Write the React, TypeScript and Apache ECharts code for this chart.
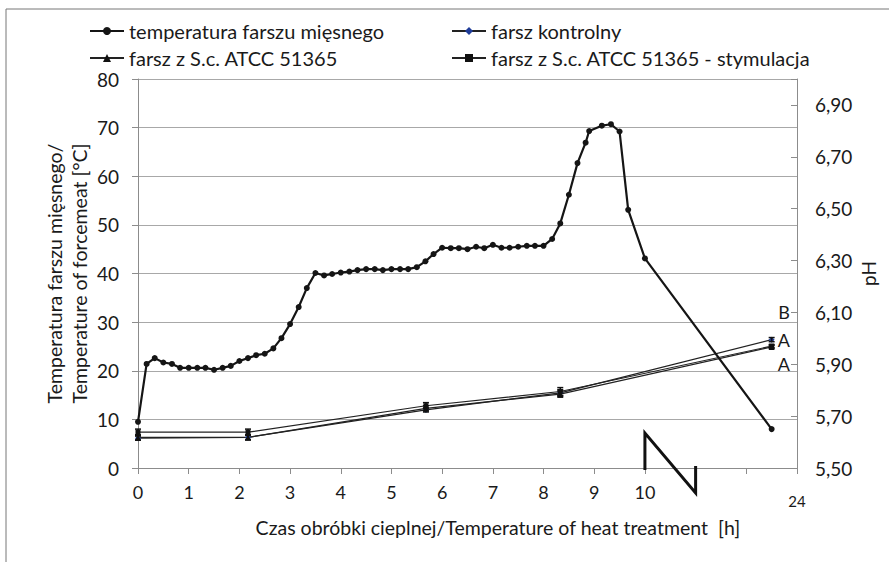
import React, { useEffect, useRef } from 'react';
import * as echarts from 'echarts';

// Temperature of forcemeat (left axis, °C); x = position on broken time axis (h, last point = 24 h)
const tempX = [0, 0.17, 0.33, 0.5, 0.67, 0.83, 1.0, 1.17, 1.33, 1.5, 1.67, 1.83, 2.0, 2.17, 2.33, 2.5, 2.67, 2.83, 3.0, 3.17, 3.33, 3.5, 3.67, 3.83, 4.0, 4.17, 4.33, 4.5, 4.67, 4.83, 5.0, 5.17, 5.33, 5.5, 5.67, 5.83, 6.0, 6.17, 6.33, 6.5, 6.67, 6.83, 7.0, 7.17, 7.33, 7.5, 7.67, 7.83, 8.0, 8.17, 8.33, 8.5, 8.67, 8.83, 8.9, 9.15, 9.33, 9.5, 9.67, 10.0, 12.5];
const tempY = [9.5, 21.4, 22.6, 21.7, 21.4, 20.6, 20.6, 20.6, 20.6, 20.2, 20.6, 21.0, 22.0, 22.6, 23.2, 23.5, 24.6, 26.7, 29.6, 33.1, 37.0, 40.1, 39.6, 39.9, 40.2, 40.4, 40.7, 40.9, 40.9, 40.7, 40.9, 40.9, 40.9, 41.3, 42.5, 44.0, 45.3, 45.2, 45.2, 45.0, 45.5, 45.2, 45.9, 45.3, 45.3, 45.5, 45.7, 45.7, 45.7, 47.1, 50.3, 56.2, 62.7, 66.9, 69.3, 70.4, 70.7, 69.2, 53.1, 43.1, 8.0];

// pH (right axis)
const phX = [0, 2.17, 5.68, 8.33, 12.5];
const phKontrolny = [5.615, 5.618, 5.724, 5.79, 5.995];
const phSc = [5.618, 5.618, 5.73, 5.785, 5.967];
const phStym = [5.638, 5.638, 5.74, 5.795, 5.97];
const errKontrolny = [0.008, 0.008, 0.008, 0.012, 0.008];
const errSc = [0.01, 0.01, 0.01, 0.012, 0.006];
const errStym = [0.012, 0.012, 0.012, 0.015, 0.006];

const xTickLabels = ['0', '1', '2', '3', '4', '5', '6', '7', '8', '9', '10', '', '', '24'];
const groupLabels = [
  { y: 6.1, t: 'B' },
  { y: 5.995, t: 'A' },
  { y: 5.9, t: 'A' },
];

const NAMES = [
  'temperatura farszu mięsnego',
  'farsz kontrolny',
  'farsz z S.c. ATCC 51365',
  'farsz z S.c. ATCC 51365 - stymulacja',
];

const FONT = 'Lato';
const TXT = '#1a1a1a';

const errRender = (params: any, api: any) => {
  const x = api.value(0);
  const lo = api.value(1);
  const hi = api.value(2);
  const p1 = api.coord([x, hi]);
  const p2 = api.coord([x, lo]);
  const w = 3;
  const style = { stroke: '#111', lineWidth: 1.5 };
  return {
    type: 'group',
    children: [
      { type: 'line', shape: { x1: p1[0], y1: p1[1], x2: p2[0], y2: p2[1] }, style },
      { type: 'line', shape: { x1: p1[0] - w, y1: p1[1], x2: p1[0] + w, y2: p1[1] }, style },
      { type: 'line', shape: { x1: p2[0] - w, y1: p2[1], x2: p2[0] + w, y2: p2[1] }, style },
    ],
  };
};

const errData = (vals: number[], errs: number[]) => phX.map((x, i) => [x, vals[i] - errs[i], vals[i] + errs[i]]);

export default function App() {
  const ref = useRef<HTMLDivElement>(null);
  useEffect(() => {
    if (!ref.current) return;
    const chart = echarts.init(ref.current, null, { renderer: 'svg' });
    const legendBase = {
      itemWidth: 34,
      itemHeight: 10,
      itemGap: 5,
      textStyle: { fontFamily: FONT, fontSize: 20, color: TXT },
    };
    const option: any = {
      animation: false,
      backgroundColor: '#fff',
      textStyle: { fontFamily: FONT },
      legend: [
        { ...legendBase, data: [NAMES[0]], left: 84, top: 16 },
        { ...legendBase, data: [NAMES[1]], left: 446, top: 16 },
        { ...legendBase, data: [NAMES[2]], left: 84, top: 43 },
        { ...legendBase, data: [NAMES[3]], left: 446, top: 43 },
      ],
      grid: { left: 138, right: 92, top: 79, bottom: 94, containLabel: false },
      xAxis: {
        type: 'value',
        min: 0,
        max: 13,
        interval: 1,
        axisLine: { lineStyle: { color: '#8c8c8c', width: 1 } },
        axisTick: { show: true, length: 6, lineStyle: { color: '#8c8c8c' } },
        splitLine: { show: false },
        axisLabel: {
          margin: 15,
          fontFamily: FONT,
          fontSize: 18,
          color: TXT,
          formatter: (v: number) => {
            const s = xTickLabels[Math.round(v)] ?? '';
            return v === 13 ? '{b|' + s + '}' : s;
          },
          rich: { b: { fontFamily: FONT, fontSize: 15, color: TXT, padding: [10, 0, 0, 0] } },
        },
      },
      yAxis: [
        {
          type: 'value',
          min: 0,
          max: 80,
          interval: 10,
          name: 'Temperatura farszu mięsnego/\nTemperature of forcemeat [°C]',
          nameLocation: 'middle',
          nameGap: 46,
          nameRotate: 90,
          nameMoveOverlap: false,
          nameTextStyle: { fontFamily: FONT, fontSize: 19.5, color: TXT, lineHeight: 25 },
          axisLine: { show: true, lineStyle: { color: '#8c8c8c' } },
          axisTick: { show: true, length: 6, lineStyle: { color: '#8c8c8c' } },
          splitLine: { show: true, lineStyle: { color: '#a8a8a8', width: 1.2 } },
          axisLabel: { margin: 19, fontFamily: FONT, fontSize: 19, color: TXT },
        },
        {
          type: 'value',
          min: 5.5,
          max: 7.0,
          interval: 0.2,
          position: 'right',
          name: 'pH',
          nameLocation: 'middle',
          nameGap: 62,
          nameRotate: 90,
          nameMoveOverlap: false,
          nameTextStyle: { fontFamily: FONT, fontSize: 19, color: TXT },
          axisLine: { show: true, lineStyle: { color: '#8c8c8c' } },
          axisTick: { show: true, inside: true, length: 6, lineStyle: { color: '#8c8c8c' } },
          splitLine: { show: false },
          axisLabel: {
            margin: 18,
            fontFamily: FONT,
            fontSize: 19,
            color: TXT,
            formatter: (v: number) => (Math.abs(v - 7.0) < 1e-6 ? '' : v.toFixed(2).replace('.', ',')),
          },
        },
      ],
      series: [
        {
          name: NAMES[0],
          type: 'line',
          yAxisIndex: 0,
          data: tempX.map((x, i) => [x, tempY[i]]),
          symbol: 'circle',
          symbolSize: 6,
          lineStyle: { color: '#151515', width: 2.2 },
          itemStyle: { color: '#151515' },
          z: 5,
        },
        {
          name: NAMES[1],
          type: 'line',
          yAxisIndex: 1,
          data: phX.map((x, i) => [x, phKontrolny[i]]),
          symbol: 'diamond',
          symbolSize: 6,
          lineStyle: { color: '#222', width: 1.2 },
          itemStyle: { color: '#1f3c99' },
          z: 4,
        },
        {
          name: NAMES[2],
          type: 'line',
          yAxisIndex: 1,
          data: phX.map((x, i) => [x, phSc[i]]),
          symbol: 'triangle',
          symbolSize: 6,
          lineStyle: { color: '#222', width: 1.2 },
          itemStyle: { color: '#111' },
          z: 4,
        },
        {
          name: NAMES[3],
          type: 'line',
          yAxisIndex: 1,
          data: phX.map((x, i) => [x, phStym[i]]),
          symbol: 'rect',
          symbolSize: 5,
          lineStyle: { color: '#222', width: 1.2 },
          itemStyle: { color: '#111' },
          z: 4,
        },
        {
          type: 'custom',
          yAxisIndex: 1,
          renderItem: errRender,
          data: errData(phKontrolny, errKontrolny),
          encode: { x: 0, y: [1, 2] },
          z: 6,
          silent: true,
        },
        {
          type: 'custom',
          yAxisIndex: 1,
          renderItem: errRender,
          data: errData(phSc, errSc),
          encode: { x: 0, y: [1, 2] },
          z: 6,
          silent: true,
        },
        {
          type: 'custom',
          yAxisIndex: 1,
          renderItem: errRender,
          data: errData(phStym, errStym),
          encode: { x: 0, y: [1, 2] },
          z: 6,
          silent: true,
        },
      ],
    };
    chart.setOption(option);

    const p10 = chart.convertToPixel({ gridIndex: 0 }, [10, 0]) as number[];
    const p11 = chart.convertToPixel({ gridIndex: 0 }, [11, 0]) as number[];
    const pMid = chart.convertToPixel({ gridIndex: 0 }, [7.1, 0]) as number[];
    const labelEls = groupLabels.map((g) => {
      const p = chart.convertToPixel({ xAxisIndex: 0, yAxisIndex: 1 }, [13, g.y]) as number[];
      return {
        type: 'text',
        x: p[0] - 7,
        y: p[1],
        z: 50,
        style: {
          text: g.t,
          fontFamily: FONT,
          fontSize: 18,
          fill: TXT,
          align: 'right',
          verticalAlign: 'middle',
        },
      };
    });
    chart.setOption({
      graphic: [
        {
          type: 'polyline',
          shape: {
            points: [
              [p10[0], p10[1] + 2],
              [p10[0], p10[1] - 35],
              [p11[0], p11[1] + 25],
              [p11[0], p11[1] - 2],
            ],
          },
          style: { stroke: '#111', lineWidth: 3, fill: 'none' },
          z: 100,
        },
        ...labelEls,
        {
          type: 'text',
          x: pMid[0],
          y: 527,
          style: {
            text: 'Czas obróbki cieplnej/Temperature of heat treatment  [h]',
            fontFamily: FONT,
            fontSize: 19.5,
            fill: TXT,
            align: 'center',
            verticalAlign: 'middle',
          },
        },
        {
          type: 'line',
          shape: { x1: 6, y1: 9, x2: 889, y2: 9 },
          style: { stroke: '#777', lineWidth: 1 },
        },
        {
          type: 'line',
          shape: { x1: 6, y1: 9, x2: 6, y2: 562 },
          style: { stroke: '#777', lineWidth: 1 },
        },
      ],
    });
    return () => chart.dispose();
  }, []);
  return <div ref={ref} style={{ position: 'absolute', left: 0, top: 0, width: 889, height: 562 }} />;
}
